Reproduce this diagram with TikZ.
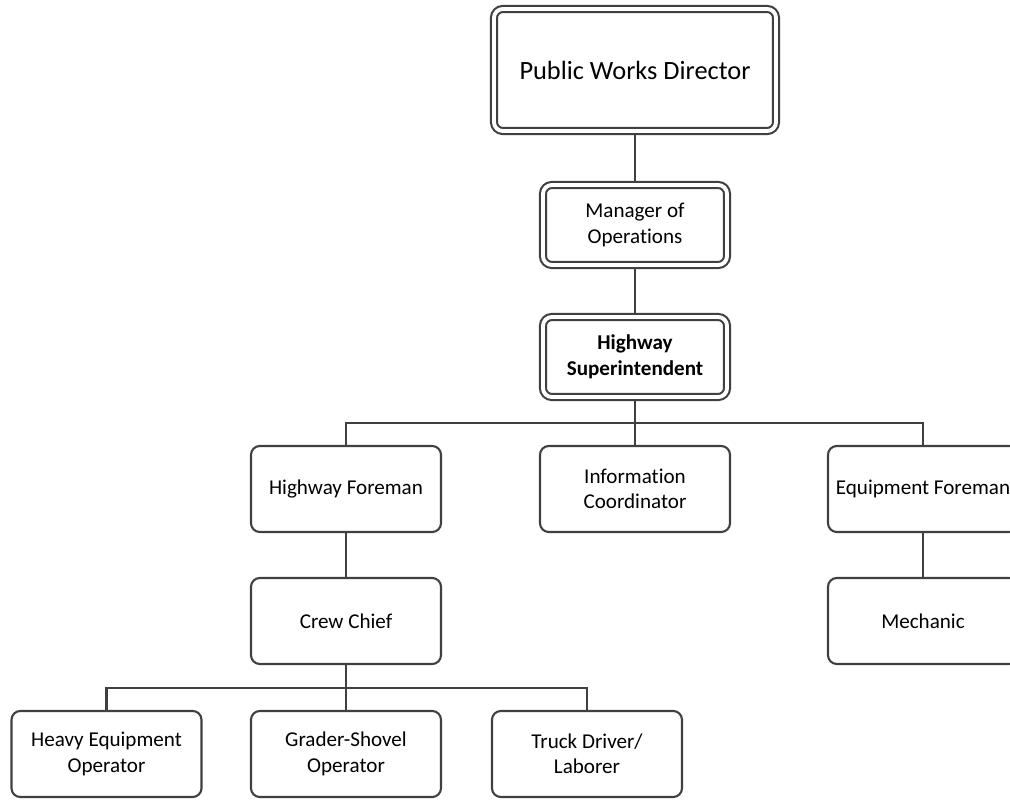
\documentclass[tikz,border=0pt]{standalone}
\usepackage{fontspec}
\setmainfont[Ligatures=NoCommon]{Carlito}
\usetikzlibrary{shapes,arrows,positioning}
\definecolor{linegray}{HTML}{404040}

\begin{document}
\begin{tikzpicture}[scale=1.0000]
	\tikzstyle{every node}=[scale=1.0000]
	\tikzstyle{post}=[draw=linegray, line width=1.2pt, rounded corners=5pt, fill=white, align=center, inner sep=0pt, minimum width=3.8000cm, minimum height=1.7200cm, font=\fontsize{12}{14.5}\selectfont]
	\tikzstyle{headpost}=[post, double, double distance=2.2pt, outer sep=2.3pt, minimum width=3.6800cm, minimum height=1.6000cm]
	\tikzstyle{link}=[draw=linegray, line width=1.2pt]
	
	%%Org chart
	
	\useasboundingbox (0.0000,0.0000) rectangle (20.2000,16.0200);
	
	\node [headpost, minimum width=5.6400cm, minimum height=2.4400cm, font=\fontsize{15}{18}\selectfont] (pwd) at (12.7000,14.6200) {Public Works Director};
	\node [headpost] (moo) at (12.7000,11.5200) {Manager of\\Operations};
	\node [headpost, font=\fontsize{12}{14.5}\selectfont\bfseries] (hs) at (12.7000,8.8800) {Highway\\Superintendent};
	
	\node [post] (hf) at (6.9200,6.2400) {Highway Foreman};
	\node [post] (ic) at (12.7000,6.2400) {Information\\Coordinator};
	\node [post] (ef) at (18.4600,6.2400) {Equipment Foreman};
	
	\node [post] (cc) at (6.9200,3.6000) {Crew Chief};
	\node [post] (mech) at (18.4600,3.6000) {Mechanic};
	
	\node [post] (heo) at (2.1300,0.9400) {Heavy Equipment\\Operator};
	\node [post] (gso) at (6.9200,0.9400) {Grader-Shovel\\Operator};
	\node [post] (tdl) at (11.7400,0.9400) {Truck Driver/\\Laborer};
	
	\coordinate (bus1) at (12.7000,7.5600);
	\coordinate (bus2) at (6.9200,2.2600);
	
	\draw [link] (pwd) -- (moo);
	\draw [link] (moo) -- (hs);
	\draw [link] (hs) -- (bus1);
	\draw [link] (hf.north) |- (bus1) -| (ef.north);
	\draw [link] (bus1) -- (ic);
	\draw [link] (hf) -- (cc);
	\draw [link] (ef) -- (mech);
	\draw [link] (cc) -- (bus2);
	\draw [link] (heo.north) |- (bus2) -| (tdl.north);
	\draw [link] (bus2) -- (gso);

\end{tikzpicture}
\end{document}
